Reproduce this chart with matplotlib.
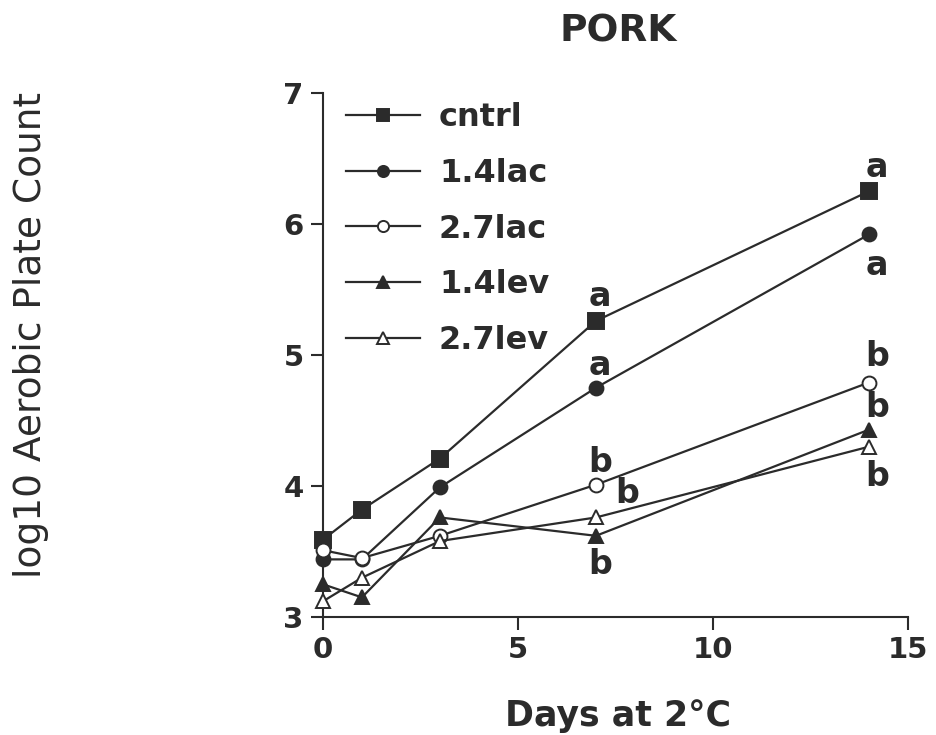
import numpy as np
import matplotlib.pyplot as plt

plt.rcParams['font.family'] = ['DejaVu Sans']

# data
days = [0, 1, 3, 7, 14]
cntrl = [3.59, 3.82, 4.21, 5.26, 6.25]
lac14 = [3.44, 3.44, 3.99, 4.75, 5.92]
lac27 = [3.51, 3.45, 3.62, 4.01, 4.79]
lev14 = [3.25, 3.15, 3.76, 3.62, 4.43]
lev27 = [3.12, 3.30, 3.58, 3.76, 4.30]

series_names = ['cntrl', '1.4lac', '2.7lac', '1.4lev', '2.7lev']

# significance letters
letters = ['a', 'a', 'b', 'b', 'b', 'a', 'a', 'b', 'b', 'b']
letter_x = [7.1, 7.1, 7.1, 7.8, 7.1, 14.2, 14.2, 14.2, 14.2, 14.2]
letter_y = [5.45, 4.92, 4.18, 3.94, 3.40, 6.43, 5.68, 4.99, 4.60, 4.07]

ink = '#2b2b2b'

fig = plt.figure(figsize=(9.36, 7.35), dpi=100)
ax = fig.add_axes([0.345, 0.1605, 0.625, 0.713])

styles = [
    dict(marker='s', markersize=11, mfc=ink),
    dict(marker='o', markersize=10, mfc=ink),
    dict(marker='o', markersize=10, mfc='white'),
    dict(marker='^', markersize=10, mfc=ink),
    dict(marker='^', markersize=10, mfc='white'),
]
for ys, name, st in zip([cntrl, lac14, lac27, lev14, lev27], series_names, styles):
    ax.plot(days, ys, color=ink, lw=1.6, mec=ink, mew=1.4,
            label=name, clip_on=False, zorder=3, **st)

for t, x, y in zip(letters, letter_x, letter_y):
    ax.text(x, y, t, fontsize=24, fontweight='bold', color=ink,
            ha='center', va='center')

ax.set_xlim(0, 15)
ax.set_ylim(3, 7)
ax.set_xticks([0, 5, 10, 15])
ax.set_yticks([3, 4, 5, 6, 7])
ax.spines['top'].set_visible(False)
ax.spines['right'].set_visible(False)
for s in ['left', 'bottom']:
    ax.spines[s].set_linewidth(1.5)
    ax.spines[s].set_color(ink)
ax.tick_params(axis='both', length=9, width=1.5, color=ink, labelcolor=ink,
               labelsize=21, pad=5)
for lab in ax.get_xticklabels() + ax.get_yticklabels():
    lab.set_fontweight('bold')

leg = ax.legend(loc='upper left', bbox_to_anchor=(0.04, 0.982), frameon=False,
                prop={'weight': 'bold', 'size': 23},
                handlelength=2.3, handletextpad=0.6, labelspacing=0.77,
                borderpad=0, borderaxespad=0, markerscale=0.8)
for t in leg.get_texts():
    t.set_color(ink)

fig.text(0.66, 0.957, 'PORK', fontsize=27, fontweight='bold', color=ink,
         ha='center', va='center')
fig.text(0.66, 0.026, 'Days at 2°C', fontsize=25, fontweight='bold', color=ink,
         ha='center', va='center')
fig.text(0.033, 0.544, 'log10 Aerobic Plate Count', fontsize=27, color=ink,
         rotation=90, ha='center', va='center')

plt.savefig('out.png', dpi=100)
